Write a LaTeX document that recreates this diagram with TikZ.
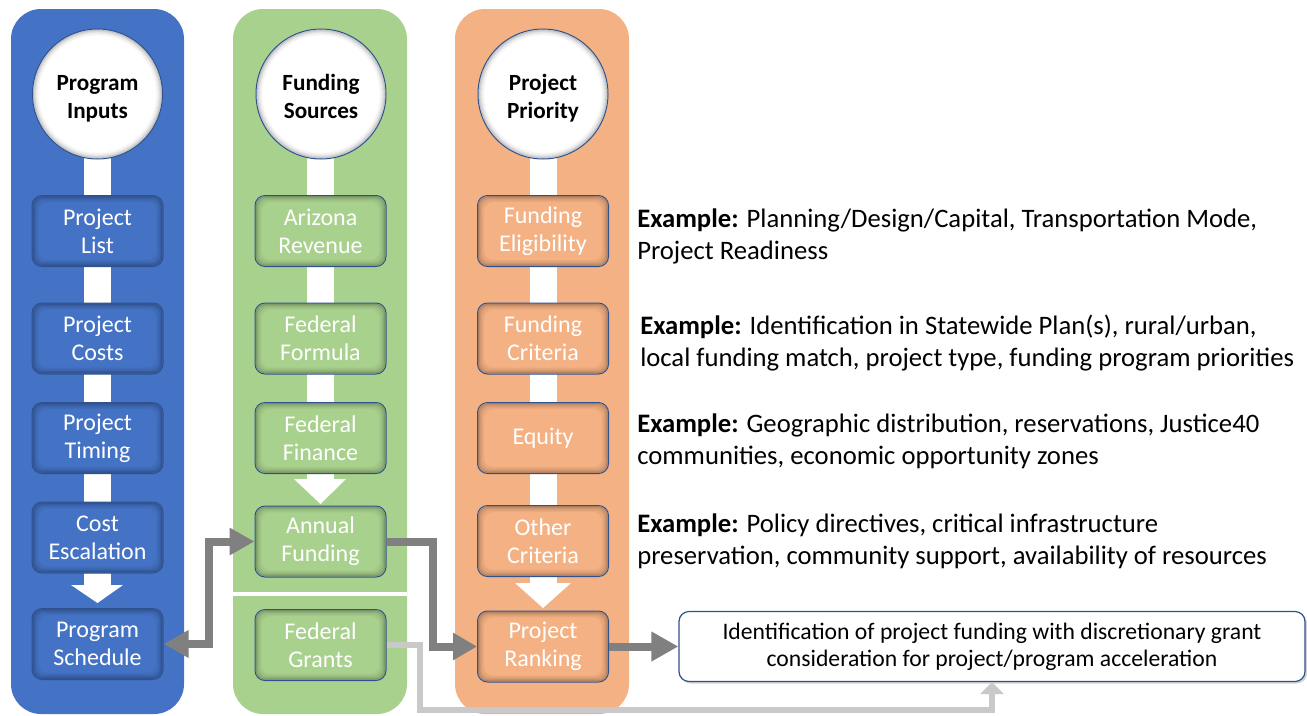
\documentclass[tikz,border=0pt]{standalone}
\usepackage{fontspec}
\setmainfont{Carlito}
\usetikzlibrary{arrows.meta,calc,shadows}
\newlength\pxu
\setlength\pxu{0.75pt}
\definecolor{cblue}{HTML}{4472C4}
\definecolor{cgreen}{HTML}{A9D18E}
\definecolor{corange}{HTML}{F4B183}
\definecolor{cborder}{HTML}{2F528F}
\definecolor{cdgrey}{HTML}{808080}
\definecolor{clgrey}{HTML}{C9C9C9}
\newcommand\boxfont{\fontsize{18pt}{21pt}\selectfont}
\newcommand\circfont{\fontsize{17.4pt}{21pt}\selectfont\bfseries}
\newcommand\exfont{\fontsize{20pt}{24pt}\selectfont}
\newcommand\finfont{\fontsize{17.75pt}{20.25pt}\selectfont}
\newcommand\circtext[1]{\raisebox{-3.75pt}[\height][\depth]{\begin{tabular}{@{}c@{}}#1\end{tabular}}}
\begin{document}
\begin{tikzpicture}[x=\pxu,y=-\pxu,
  inshadow/.style={path picture={
     \foreach \i/\o in {1/0.24,2/0.17,3/0.12,4/0.08,5/0.05,6/0.03}{
       \draw[black,opacity=\o,line width=1.2\pxu,rounded corners=10\pxu]
         ($(path picture bounding box.south west)+(\i,-\i)$) rectangle
         ($(path picture bounding box.north east)+(-\i,\i)$);}}},
  cshadow/.style={path picture={
     \foreach \i/\o in {1/0.20,2/0.14,3/0.10,4/0.06,5/0.04,6/0.02}{
       \draw[black,opacity=\o,line width=1.2\pxu]
         (path picture bounding box.center) circle[radius={(65-\i)*0.75pt}];}}},
  stepbox/.style={draw=cborder,line width=1\pxu,rounded corners=10\pxu,
     minimum width=131\pxu,minimum height=71\pxu,inner sep=0pt,align=center,
     text=white,font=\boxfont,inshadow},
  bbox/.style={stepbox,fill=cblue},
  gbox/.style={stepbox,fill=cgreen},
  obox/.style={stepbox,fill=corange},
  circ/.style={circle,draw=cborder,line width=1\pxu,fill=white,minimum size=130\pxu,
     inner sep=0pt,font=\circfont,cshadow},
  exnote/.style={anchor=west,align=left,inner sep=0pt,font=\exfont},
  finbox/.style={draw=cborder,line width=1.2\pxu,fill=white,rounded corners=10\pxu,
     minimum width=626\pxu,minimum height=70\pxu,align=center,font=\finfont,
     drop shadow={opacity=0.35,shadow xshift=1.5pt,shadow yshift=-1.5pt}},
  darr/.style={draw=cdgrey,line width=6pt},
  larr/.style={draw=clgrey,line width=4.5pt},
]
\useasboundingbox (0,0) rectangle (1307,715);
% columns
\fill[cblue,rounded corners=30\pxu] (11,9) rectangle (184,714);
\fill[cgreen,rounded corners=30\pxu] (233,9) rectangle (407,714);
\fill[corange,rounded corners=30\pxu] (455,9) rectangle (629,714);
\fill[white] (233,592) rectangle (407,596);
% stems
\fill[white] (84,150) rectangle (111,586);
\fill[white] (71,585) -- (123,585) -- (97.5,603) -- cycle;
\fill[white] (307,150) rectangle (334,480);
\fill[white] (294,479) -- (346,479) -- (320.5,504) -- cycle;
\fill[white] (530,150) rectangle (557,584);
\fill[white] (515,583) -- (571,583) -- (543,608) -- cycle;
% circles
\node[circ] (c1) at (97.5,94) {\circtext{Program\\Inputs}};
\node[circ] (c2) at (321,94) {\circtext{Funding\\Sources}};
\node[circ] (c3) at (543,94) {\circtext{Project\\Priority}};
% blue boxes
\node[bbox] (plist) at (97.5,231) {Project\\List};
\node[bbox] (pcost) at (97.5,338.5) {Project\\Costs};
\node[bbox] (ptime) at (97.5,438) {Project\\Timing};
\node[bbox] (cesc) at (97.5,537.5) {Cost\\Escalation};
\node[bbox] (sched) at (97.5,644) {Program\\Schedule};
% green boxes
\node[gbox] (azrev) at (320.5,231) {Arizona\\Revenue};
\node[gbox] (fform) at (320.5,338.5) {Federal\\Formula};
\node[gbox] (ffin) at (320.5,438) {Federal\\Finance};
\node[gbox] (annual) at (320.5,541.5) {Annual\\Funding};
\node[gbox] (grants) at (320.5,645) {Federal\\Grants};
% orange boxes
\node[obox] (felig) at (543,231) {Funding\\Eligibility};
\node[obox] (fcrit) at (543,338.5) {Funding\\Criteria};
\node[obox] (equity) at (543,438) {Equity};
\node[obox] (other) at (543,541) {Other\\Criteria};
\node[obox] (rank) at (543,646.5) {Project\\Ranking};
% final box
\node[finbox] (final) at (992,646.5) {Identification of project funding with discretionary grant\\consideration for project/program acceleration};
% examples
\node[exnote] (ex1) at (637,236.5) {\textbf{Example:} Planning/Design/Capital, Transportation Mode,\\Project Readiness};
\node[exnote] (ex2) at (640,343) {\textbf{Example:} Identification in Statewide Plan(s), rural/urban,\\local funding match, project type, funding program priorities};
\node[exnote] (ex3) at (637,441) {\textbf{Example:} Geographic distribution, reservations, Justice40\\communities, economic opportunity zones};
\node[exnote] (ex4) at (637,541.5) {\textbf{Example:} Policy directives, critical infrastructure\\preservation, community support, availability of resources};
% connectors
\coordinate (gb) at (0,710);
\draw[larr,-{Triangle[width=17.25pt,length=9pt]}] (grants.east) -- ++(33,0) |- (gb -| final.south) -- (final.south);
\draw[darr,{Triangle[width=19.5pt,length=18.75pt]}-{Triangle[width=19.5pt,length=18.75pt]}] (sched.east) -- ++(45,0) |- (annual.west);
\draw[darr,-{Triangle[width=19.5pt,length=18pt]}] (annual.east) -- ++(46,0) |- (rank.west);
\draw[darr,-{Triangle[width=21pt,length=20.25pt]}] (rank.east) -- (final.west);
\end{tikzpicture}
\end{document}
